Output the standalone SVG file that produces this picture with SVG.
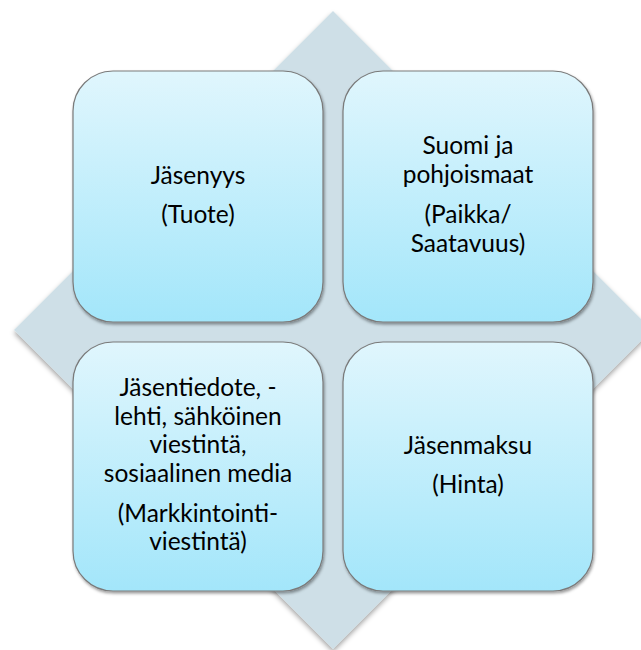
<svg xmlns="http://www.w3.org/2000/svg" width="641" height="650" viewBox="0 0 641 650">
  <defs>
    <linearGradient id="boxGrad" x1="0" y1="0" x2="0" y2="1">
      <stop offset="0" stop-color="#E0F6FD"/>
      <stop offset="1" stop-color="#A3E6FA"/>
    </linearGradient>
    <filter id="diaShadow" x="-10%" y="-10%" width="120%" height="120%">
      <feDropShadow dx="0" dy="3" stdDeviation="2.5" flood-color="#000" flood-opacity="0.35"/>
    </filter>
    <filter id="boxShadow" x="-10%" y="-10%" width="120%" height="120%">
      <feDropShadow dx="1" dy="2" stdDeviation="1.5" flood-color="#000" flood-opacity="0.4"/>
    </filter>
  </defs>
  <style>
    .box { fill: url(#boxGrad); stroke: #7A7A7A; stroke-width: 1.2; filter: url(#boxShadow); }
    .lbl { font-family: Lato, "Open Sans", sans-serif; font-size: 24.5px; fill: #000; text-anchor: middle; }
  </style>
  <rect width="641" height="650" fill="#FFFFFF"/>
  <g id="background">
    <polygon points="333,11 652,330 333,649 14,330" fill="#CEDFE7" filter="url(#diaShadow)"/>
  </g>
  <g id="node-tuote">
    <rect class="box" x="73" y="71" width="250" height="251" rx="40" ry="40"/>
    <text class="lbl" x="198" y="184">Jäsenyys</text>
    <text class="lbl" x="198" y="223">(Tuote)</text>
  </g>
  <g id="node-paikka">
    <rect class="box" x="343" y="71" width="250" height="251" rx="40" ry="40"/>
    <text class="lbl" x="468" y="154">Suomi ja</text>
    <text class="lbl" x="468" y="183">pohjoismaat</text>
    <text class="lbl" x="468" y="223">(Paikka/</text>
    <text class="lbl" x="468" y="252">Saatavuus)</text>
  </g>
  <g id="node-markkinointi">
    <rect class="box" x="73" y="342" width="250" height="249" rx="40" ry="40"/>
    <text class="lbl" x="198" y="396">Jäsentiedote, -</text>
    <text class="lbl" x="198" y="425">lehti, sähköinen</text>
    <text class="lbl" x="198" y="453">viestintä,</text>
    <text class="lbl" x="198" y="482">sosiaalinen media</text>
    <text class="lbl" x="198" y="522">(Markkintointi-</text>
    <text class="lbl" x="198" y="550">viestintä)</text>
  </g>
  <g id="node-hinta">
    <rect class="box" x="343" y="342" width="250" height="249" rx="40" ry="40"/>
    <text class="lbl" x="468" y="454">Jäsenmaksu</text>
    <text class="lbl" x="468" y="493">(Hinta)</text>
  </g>
  <g id="connectors"/>
</svg>
